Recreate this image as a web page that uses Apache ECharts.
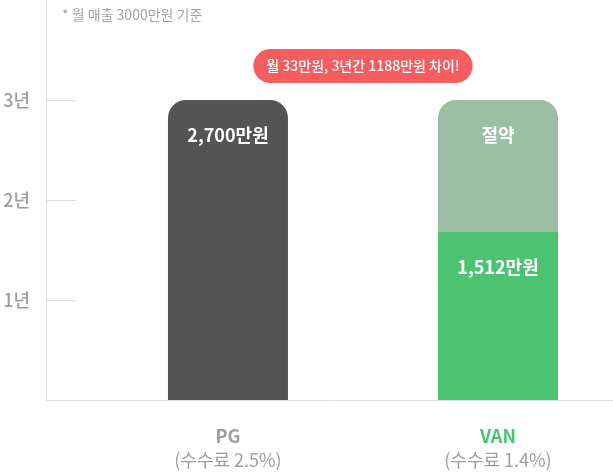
<!DOCTYPE html>
<html>
<head>
<meta charset="utf-8">
<script src="https://cdn.jsdelivr.net/npm/echarts@6/dist/echarts.min.js"></script>
<style>
html,body{margin:0;padding:0;background:#fff;}
#c{width:613px;height:473px;}
</style>
</head>
<body>
<div id="c"></div>
<script>
// ---- data ----
const categories = ['PG', 'VAN'];
const rateLabels = ['(수수료 2.5%)', '(수수료 1.4%)'];
const feeValues = [2700, 1512];          // 3년간 수수료 (만원)
const savingValues = [null, 1188];       // 절약액 (만원)
const yearTicks = [1, 2, 3];
const perYear = 900;                     // 1년 = 900만원 (PG 기준)
const noteText = '* 월 매출 3000만원 기준';
const pillText = '월 33만원, 3년간 1188만원 차이!';

const FONT = '"Noto Sans CJK KR", "Noto Sans", sans-serif';
const positions = categories.map((c, i) => i + 1);

const chart = echarts.init(document.getElementById('c'), null, {renderer: 'canvas'});

const labelBase = {
  show: true,
  position: 'insideTop',
  distance: 26,
  color: '#fff',
  fontSize: 18,
  fontWeight: 700,
  lineHeight: 18,
  fontFamily: FONT
};

const option = {
  animation: false,
  backgroundColor: '#fff',
  textStyle: {fontFamily: FONT},
  title: {
    text: noteText,
    left: 57,
    top: 3,
    textStyle: {fontSize: 14, fontWeight: 400, color: '#a3a3a3', fontFamily: FONT}
  },
  grid: {left: 46, right: 0, top: 0, bottom: 73, containLabel: false},
  xAxis: {
    type: 'value',
    min: 0.326,
    max: 2.426,
    axisLine: {show: true, lineStyle: {color: '#dcdcdc', width: 1}},
    axisTick: {show: false},
    splitLine: {show: false},
    axisLabel: {
      customValues: positions,
      margin: 24,
      formatter: function (v) {
        const i = Math.round(v) - 1;
        if (i < 0 || i >= categories.length) return '';
        const style = i === 1 ? 'nameG' : 'name';
        return '{' + style + '|' + categories[i] + '}\n{rate|' + rateLabels[i] + '}';
      },
      rich: {
        name: {fontSize: 18, fontWeight: 700, color: '#9e9e9e', lineHeight: 24, fontFamily: FONT},
        nameG: {fontSize: 18, fontWeight: 700, color: '#4bc370', lineHeight: 24, fontFamily: FONT},
        rate: {fontSize: 18, fontWeight: 400, color: '#9e9e9e', lineHeight: 24, fontFamily: FONT}
      }
    }
  },
  yAxis: {
    type: 'value',
    min: 0,
    max: perYear * 4,
    interval: perYear,
    axisLine: {show: true, lineStyle: {color: '#dcdcdc', width: 1}},
    axisTick: {
      show: true, inside: true, length: 30,
      customValues: yearTicks.map(y => y * perYear),
      lineStyle: {color: '#dcdcdc', width: 1}
    },
    splitLine: {show: false},
    axisLabel: {
      customValues: yearTicks.map(y => y * perYear),
      margin: 16,
      formatter: v => (v / perYear) + '년',
      fontSize: 18,
      fontWeight: 500,
      color: '#9e9e9e',
      fontFamily: FONT
    }
  },
  series: [
    {
      // 절약 구간: 수수료 위에 쌓인 부분 (fee + saving 높이까지, 수수료 막대 뒤에 그림)
      name: 'saving',
      type: 'bar',
      barWidth: 120,
      barGap: '-100%',
      z: 2,
      data: savingValues.map((v, i) => (v == null ? '-' : {
        value: [positions[i], feeValues[i] + v],
        itemStyle: {color: '#9bbea4', borderRadius: [18, 18, 0, 0]}
      })),
      label: Object.assign({}, labelBase, {formatter: () => '절약'})
    },
    {
      name: 'fee',
      type: 'bar',
      barWidth: 120,
      barGap: '-100%',
      z: 3,
      data: feeValues.map((v, i) => ({
        value: [positions[i], v],
        itemStyle: savingValues[i] == null
          ? {color: '#545454', borderRadius: [18, 18, 0, 0]}
          : {color: '#4bc370', borderRadius: 0}
      })),
      label: Object.assign({}, labelBase, {
        formatter: p => p.value[1].toLocaleString('en-US') + '만원'
      })
    }
  ]
};
chart.setOption(option);

const midX = chart.convertToPixel({xAxisIndex: 0}, (positions[0] + positions[1]) / 2);
chart.setOption({
  graphic: [{
    type: 'text',
    x: midX,
    y: 66,
    z: 10,
    style: {
      text: pillText,
      align: 'center',
      verticalAlign: 'middle',
      fill: '#fff',
      fontSize: 14,
      fontWeight: 500,
      fontFamily: FONT,
      backgroundColor: '#f65d5f',
      padding: [10, 13],
      borderRadius: 19
    }
  }]
});
</script>
</body>
</html>
